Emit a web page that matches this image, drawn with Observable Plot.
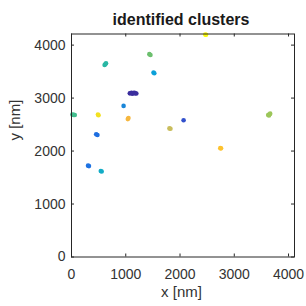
<!DOCTYPE html>
<html>
<head>
<meta charset="utf-8">
<script src="https://cdn.jsdelivr.net/npm/d3@7"></script>
<script src="https://cdn.jsdelivr.net/npm/@observablehq/plot@0.6"></script>
<style>
  body { margin: 0; background: #fff; font-family: "Liberation Sans", Arial, sans-serif; }
  #title { box-sizing: border-box; width: 306px; height: 28px; padding-top: 12px; padding-left: 56px;
           font-size: 16px; font-weight: bold; line-height: 16px; text-align: center; color: #1a1a1a; }
  #chart svg { display: block; }
</style>
</head>
<body>
<div id="title">identified clusters</div>
<div id="chart"></div>
<script>
// cluster colours (parula-like), one per cluster id
const clusterColors = ["#3b2e9e", "#3250cc", "#1e6ee0", "#1e72e2", "#1a86d8", "#0ba0d8", "#12acc6", "#2ab7a4",
                       "#43be8e", "#6cbf6e", "#9cc65a", "#c9bd5c", "#f6b73f", "#fdc22f", "#f3e121", "#f9fb0e"];
// localisations: x [nm], y [nm], cluster id
const pointX = [1075, 1105, 1140, 1170, 1195, 1120, 1160,
                2066,
                455, 478,
                305, 322,
                960,
                1512, 1526,
                540, 556,
                610, 625, 636,
                15, 40, 60,
                1435, 1455,
                3625, 3648, 3662, 3640,
                1805, 1824,
                1038, 1050,
                2742, 2756,
                487, 498,
                2465, 2480];
const pointY = [3090, 3098, 3095, 3090, 3086, 3082, 3100,
                2581,
                2318, 2304,
                1725, 1716,
                2853,
                3482, 3468,
                1623, 1614,
                3625, 3642, 3658,
                2688, 2683, 2680,
                3830, 3814,
                2680, 2696, 2706, 2672,
                2428, 2422,
                2603, 2622,
                2055, 2051,
                2688, 2677,
                4199, 4196];
const pointCluster = [0, 0, 0, 0, 0, 0, 0,
                      1,
                      2, 2,
                      3, 3,
                      4,
                      5, 5,
                      6, 6,
                      7, 7, 7,
                      8, 8, 8,
                      9, 9,
                      10, 10, 10, 10,
                      11, 11,
                      12, 12,
                      13, 13,
                      14, 14,
                      15, 15];
const tickValues = [0, 1000, 2000, 3000, 4000];

const points = pointX.map((x, i) => ({x, y: pointY[i], c: pointCluster[i]}));
const ink = "#262626";
const frameW = 223, frameH = 223, tk = 3;

const chart = Plot.plot({
  width: 306,
  height: 278,
  marginLeft: 71,
  marginRight: 12,
  marginTop: 5.5,
  marginBottom: 49.5,
  style: {fontFamily: "'Liberation Sans', Arial, sans-serif", fontSize: "14px", color: "#333", background: "#fff"},
  x: {domain: [0, 4110]},
  y: {domain: [0, 4210]},
  color: {domain: d3.range(clusterColors.length), range: clusterColors},
  marks: [
    Plot.dot(points, {x: "x", y: "y", fill: "c", r: 2.3, stroke: "none"}),
    Plot.frame({stroke: ink, strokeWidth: 1}),
    // inward ticks on all four sides
    Plot.tickX(tickValues, {x: d => d, insetTop: frameH - tk, stroke: ink}),
    Plot.tickX(tickValues, {x: d => d, insetBottom: frameH - tk, stroke: ink}),
    Plot.tickY(tickValues, {y: d => d, insetRight: frameW - tk, stroke: ink}),
    Plot.tickY(tickValues, {y: d => d, insetLeft: frameW - tk, stroke: ink}),
    Plot.axisX(tickValues, {tickSize: 0, tickPadding: 12, label: null, tickFormat: d => String(d), fill: "#333", fontSize: 14}),
    Plot.axisY(tickValues, {tickSize: 0, tickPadding: 6, label: null, tickFormat: d => String(d), fill: "#333", fontSize: 14}),
    Plot.text(["x [nm]"], {frameAnchor: "bottom", dy: 40, dx: -1.5, fontSize: 15, fill: "#333"}),
    Plot.text(["y [nm]"], {frameAnchor: "left", dx: -56, dy: -5, rotate: -90, fontSize: 15, fill: "#333"})
  ]
});
document.getElementById("chart").appendChild(chart);
</script>
</body>
</html>
